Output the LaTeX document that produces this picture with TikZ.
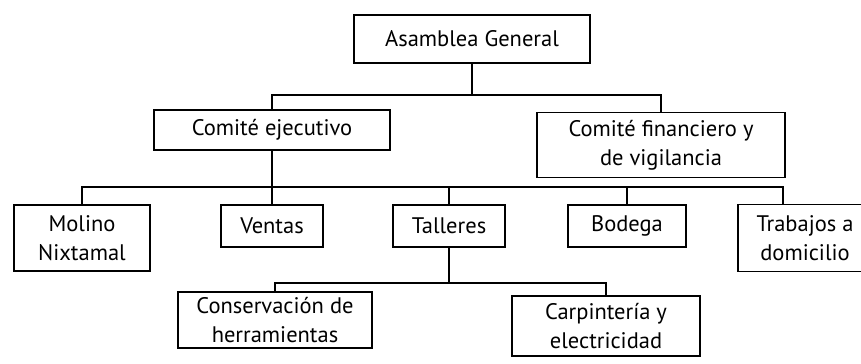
\documentclass[tikz,border=0pt]{standalone}
\usepackage{fontspec}
\setmainfont{PT Sans}
\usepackage{tikz}

\begin{document}
\begin{tikzpicture}[x=0.025cm,y=-0.025cm,
	caja/.style={draw,line width=1.4pt,align=center,inner sep=0pt,font=\fontsize{16}{20.5}\selectfont},
	linea/.style={line width=1.2pt}]
	\useasboundingbox (0,0) rectangle (861,363);

	\node[caja,minimum width=5.875cm,minimum height=1.2cm](asamblea) at (472,39) {Asamblea General};
	\node[caja,minimum width=5.875cm,minimum height=1cm](ejecutivo) at (272,130) {Comité ejecutivo};
	\node[caja,minimum width=6.2cm,minimum height=1.625cm](financiero) at (661,145) {Comité financiero y\\de vigilancia};

	\node[caja,minimum width=3.4cm,minimum height=1.65cm](molino) at (82,238) {Molino\\Nixtamal};
	\node[caja,minimum width=2.55cm,minimum height=1.05cm](ventas) at (272,226) {Ventas};
	\node[caja,minimum width=2.8cm,minimum height=1.05cm](talleres) at (449,226) {Talleres};
	\node[caja,minimum width=2.95cm,minimum height=1.05cm](bodega) at (627,226) {Bodega};
	\node[caja,minimum width=3.35cm,minimum height=1.675cm](trabajos) at (805,238) {Trabajos a\\domicilio};

	\node[caja,minimum width=4.85cm,minimum height=1.4cm](conservacion) at (275,320) {Conservación de\\herramientas};
	\node[caja,minimum width=4.7cm,minimum height=1.5cm](carpinteria) at (606,326) {Carpintería y\\electricidad};

	\coordinate (b1) at (472,95);
	\coordinate (b2) at (272,187);
	\coordinate (b2e) at (783,187);
	\coordinate (b3) at (449,283);

	\draw[linea] (asamblea) -- (b1);
	\draw[linea] (ejecutivo.north) |- (b1) -| (financiero.north);
	\draw[linea] (ejecutivo) -- (ventas);
	\draw[linea] (molino.north) |- (b2e) -- (b2e |- trabajos.north);
	\draw[linea] (talleres.north) -- (talleres.north |- b2);
	\draw[linea] (bodega.north) -- (bodega.north |- b2);
	\draw[linea] (talleres) -- (b3);
	\draw[linea] (conservacion.north) |- (b3) -| (carpinteria.north);
\end{tikzpicture}
\end{document}
